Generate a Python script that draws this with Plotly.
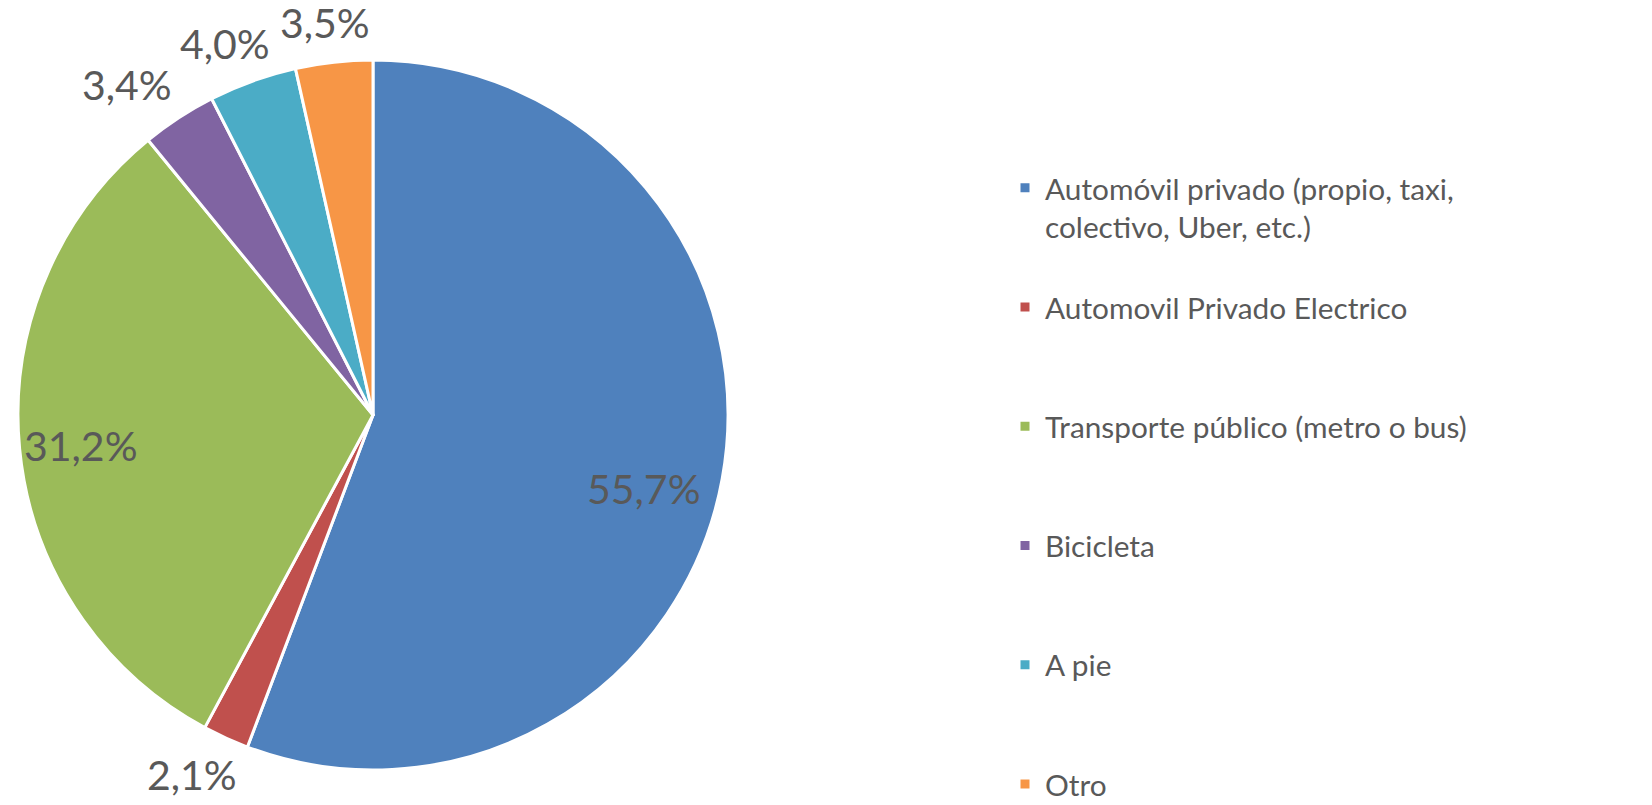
import math
import plotly.graph_objects as go

# ---- data ----
labels = [
    "Automóvil privado (propio, taxi,<br>colectivo, Uber, etc.)",
    "Automovil Privado Electrico",
    "Transporte público (metro o bus)",
    "Bicicleta",
    "A pie",
    "Otro",
]
values = [55.7, 2.1, 31.2, 3.4, 4.0, 3.5]
colors = ["#4F81BD", "#C0504D", "#9BBB59", "#8064A2", "#4BACC6", "#F79646"]

# ---- label styling (placement mode and small pixel nudges) ----
label_inside = [True, False, True, False, False, False]
label_shift = [(-12, 22), (0, 0), (-6, 3), (-8, 0), (0, 0), (0, 0)]

# ---- layout constants (page pixel coordinates) ----
W, H = 1652, 805
OFF = 8                      # default body margin of the html page
cx, cy, R = 373, 415, 355    # pie centre / radius on the page
TEXT_COLOR = "#595959"


def px_to_paper(px, py):
    return (px - OFF) / W, 1 - (py - OFF) / H


# pad legend entries (3 lines each, last one single line) so entries are evenly spaced
legend_names = []
for i, lab in enumerate(labels):
    n = lab.count("<br>") + 1
    pad = 0 if i == len(labels) - 1 else 3 - n
    legend_names.append(lab + "<br>&nbsp;" * pad)

x0, y1 = px_to_paper(cx - R, cy - R)
x1, y0 = px_to_paper(cx + R, cy + R)

fig = go.Figure(
    go.Pie(
        labels=legend_names,
        values=values,
        textinfo="none",
        hoverinfo="label+percent",
        marker=dict(colors=colors, line=dict(color="white", width=3)),
        sort=False,
        direction="clockwise",
        rotation=0,
        domain=dict(x=[x0, x1], y=[y0, y1]),
        showlegend=True,
    )
)

# percentage labels placed at each slice's mid-angle
total = sum(values)
cum = 0.0
for v, inside, (sx, sy) in zip(values, label_inside, label_shift):
    mid = (cum + v / 2) / total * 2 * math.pi
    cum += v
    ux, uy = math.sin(mid), -math.cos(mid)
    if inside:
        px = cx + ux * R * 0.81
        py = cy + uy * R * 0.81
    else:
        gap = 21
        px = cx + ux * (R + gap + 60)
        py = cy + uy * (R + gap + 19)
    px += sx
    py += sy
    txt = f"{v:.1f}".replace(".", ",") + "%"
    ax, ay = px_to_paper(px, py)
    fig.add_annotation(
        x=ax, y=ay, xref="paper", yref="paper",
        text=txt, showarrow=False, xanchor="center", yanchor="middle",
        font=dict(family="Lato", size=41, color=TEXT_COLOR),
    )

lx, ly = px_to_paper(1005, 162)

fig.update_layout(
    width=W,
    height=H,
    margin=dict(l=0, r=0, t=0, b=0, autoexpand=False),
    paper_bgcolor="white",
    plot_bgcolor="white",
    font=dict(family="Lato", color=TEXT_COLOR),
    legend=dict(
        x=lx,
        xanchor="left",
        y=ly,
        yanchor="top",
        font=dict(family="Lato", size=29.8, color=TEXT_COLOR),
        valign="top",
        itemclick=False,
        itemdoubleclick=False,
    ),
)

fig.write_html("out.html")
